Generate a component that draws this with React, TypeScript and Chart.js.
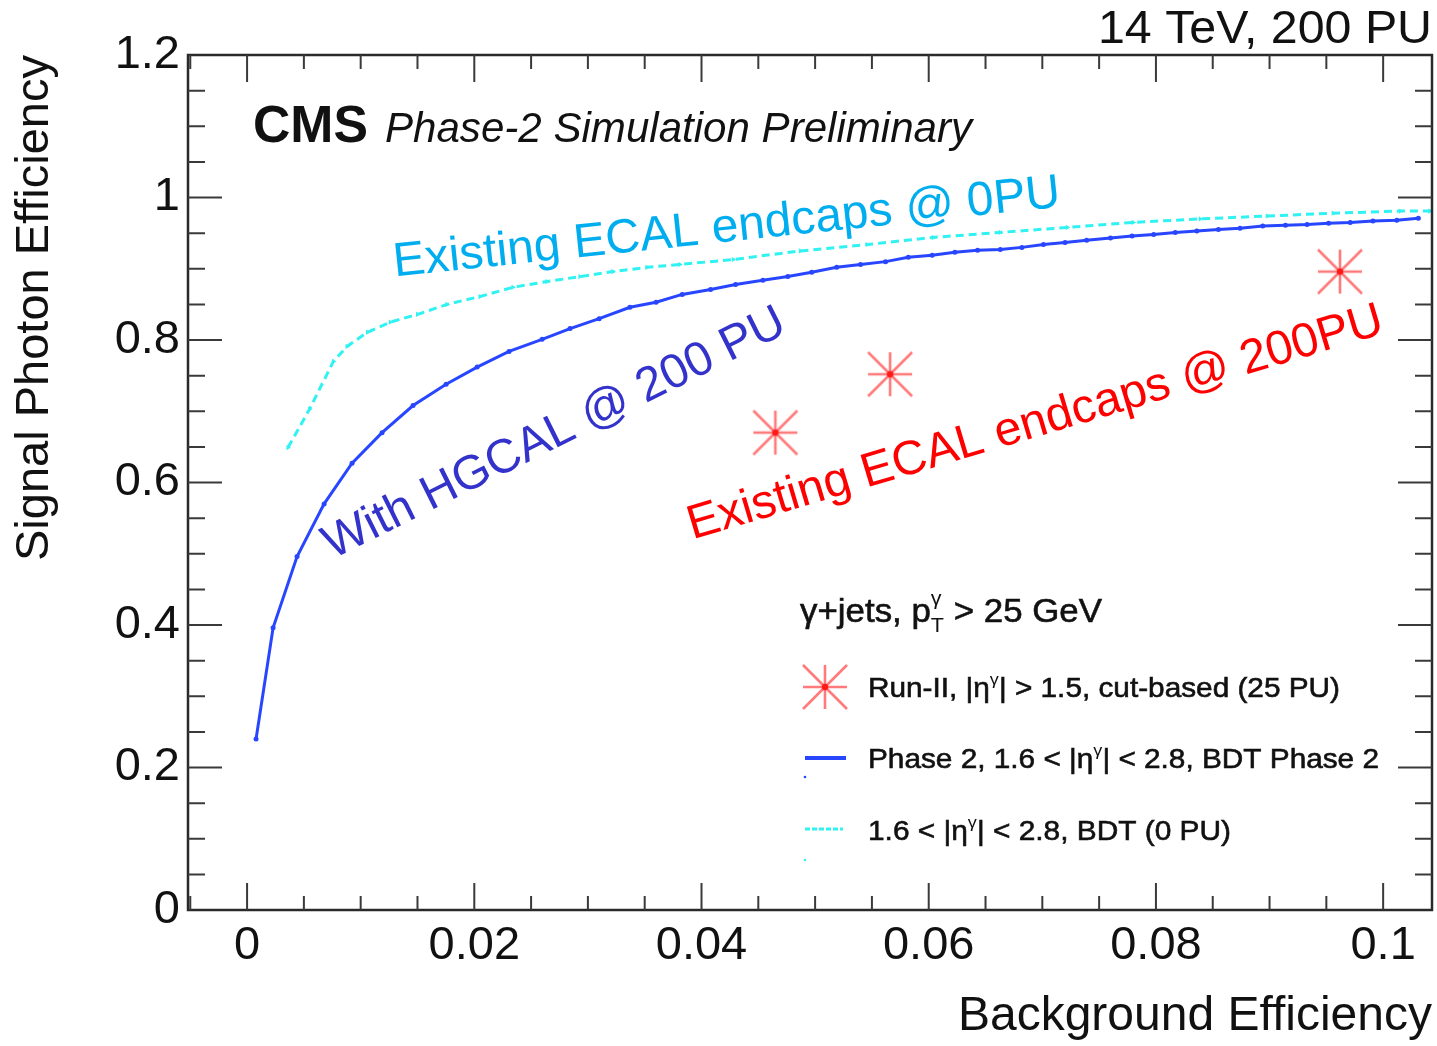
import { useEffect, useRef } from 'react';
import { Chart, registerables } from 'chart.js';

Chart.register(...registerables);

const FONT = '"Liberation Sans", Arial, Helvetica, sans-serif';

// Phase 2 HGCAL, 200 PU (blue solid)
const PHASE2_X = [0.00079, 0.00229, 0.0044, 0.00678, 0.00924, 0.01188, 0.01461, 0.01752, 0.02025, 0.02306, 0.02597, 0.02843, 0.03099, 0.0337, 0.036, 0.0383, 0.0408, 0.043, 0.0454, 0.0476, 0.0497, 0.0519, 0.054, 0.0562, 0.0582, 0.0603, 0.0623, 0.0643, 0.0663, 0.0682, 0.0701, 0.072, 0.0739, 0.076, 0.0779, 0.0798, 0.0817, 0.0836, 0.0855, 0.0874, 0.0894, 0.0914, 0.0933, 0.0952, 0.0971, 0.0991, 0.1012, 0.1031];
const PHASE2_Y = [0.24, 0.396, 0.496, 0.57, 0.627, 0.67, 0.708, 0.738, 0.762, 0.784, 0.801, 0.816, 0.83, 0.846, 0.853, 0.864, 0.871, 0.878, 0.884, 0.889, 0.895, 0.902, 0.906, 0.91, 0.916, 0.919, 0.923, 0.926, 0.927, 0.93, 0.934, 0.937, 0.94, 0.943, 0.946, 0.948, 0.951, 0.953, 0.955, 0.957, 0.96, 0.961, 0.962, 0.964, 0.965, 0.967, 0.968, 0.971];

// Existing ECAL, 0 PU (cyan dashed)
const ZEROPU_X = [0.0036, 0.0055, 0.0076, 0.0088, 0.0106, 0.0126, 0.015, 0.0176, 0.0205, 0.0234, 0.0264, 0.0293, 0.0322, 0.0352, 0.0381, 0.0428, 0.0487, 0.0546, 0.0604, 0.0663, 0.0722, 0.078, 0.0839, 0.0898, 0.0956, 0.1015, 0.1041];
const ZEROPU_Y = [0.649, 0.703, 0.77, 0.791, 0.811, 0.825, 0.836, 0.85, 0.861, 0.874, 0.882, 0.889, 0.896, 0.902, 0.906, 0.913, 0.925, 0.934, 0.944, 0.951, 0.958, 0.965, 0.97, 0.974, 0.978, 0.981, 0.981];

// Run-II cut-based (red stars)
const RUN2_X = [0.0465, 0.0566, 0.0962];
const RUN2_Y = [0.67, 0.752, 0.896];

const X_TICKS = [0, 0.02, 0.04, 0.06, 0.08, 0.1];
const X_TICK_LABELS = ['0', '0.02', '0.04', '0.06', '0.08', '0.1'];
const Y_TICKS = [0, 0.2, 0.4, 0.6, 0.8, 1.0, 1.2];
const Y_TICK_LABELS = ['0', '0.2', '0.4', '0.6', '0.8', '1', '1.2'];

const BLUE = '#2846ff';
const CYAN = '#30f2f2';

function makeStar(size: number): HTMLCanvasElement {
  const c = document.createElement('canvas');
  c.width = size;
  c.height = size;
  const g = c.getContext('2d')!;
  const h = size / 2;
  const r = h - 2;
  g.strokeStyle = 'rgba(255,70,70,0.72)';
  g.lineWidth = 2.6;
  g.beginPath();
  g.moveTo(h - r, h); g.lineTo(h + r, h);
  g.moveTo(h, h - r); g.lineTo(h, h + r);
  g.moveTo(h - r, h - r); g.lineTo(h + r, h + r);
  g.moveTo(h + r, h - r); g.lineTo(h - r, h + r);
  g.stroke();
  g.fillStyle = '#ff1a1a';
  g.beginPath();
  g.arc(h, h, 3.2, 0, Math.PI * 2);
  g.fill();
  return c;
}

type Seg = { t: string; kind?: 'sup' | 'subsup'; t2?: string };

function drawRich(ctx: CanvasRenderingContext2D, segs: Seg[], x: number, y: number, size: number, width: number, color: string) {
  const base = `${size}px ${FONT}`;
  const small = `${Math.round(size * 0.62)}px ${FONT}`;
  const widths: number[] = [];
  let natural = 0;
  for (const s of segs) {
    let w: number;
    if (!s.kind) {
      ctx.font = base;
      w = ctx.measureText(s.t).width;
    } else {
      ctx.font = small;
      w = Math.max(ctx.measureText(s.t).width, ctx.measureText(s.t2 || '').width);
    }
    widths.push(w);
    natural += w;
  }
  const sx = width / natural;
  ctx.save();
  ctx.translate(x, y);
  ctx.scale(sx, 1);
  ctx.fillStyle = color;
  ctx.strokeStyle = color;
  ctx.lineWidth = 0.6;
  ctx.textAlign = 'left';
  ctx.textBaseline = 'alphabetic';
  let cx = 0;
  segs.forEach((s, i) => {
    if (!s.kind) {
      ctx.font = base;
      ctx.fillText(s.t, cx, 0);
      ctx.strokeText(s.t, cx, 0);
    } else if (s.kind === 'sup') {
      ctx.font = small;
      ctx.fillText(s.t, cx, -size * 0.42);
    } else {
      ctx.font = small;
      ctx.fillText(s.t, cx, size * 0.3);
      ctx.fillText(s.t2 || '', cx, -size * 0.5);
    }
    cx += widths[i];
  });
  ctx.restore();
}

function drawFit(ctx: CanvasRenderingContext2D, text: string, x: number, y: number, font: string, width: number, color: string, align: 'left' | 'right' = 'left') {
  ctx.save();
  ctx.font = font;
  const w = ctx.measureText(text).width;
  const sx = width / w;
  ctx.translate(align === 'left' ? x : x - width, y);
  ctx.scale(sx, 1);
  ctx.fillStyle = color;
  ctx.textAlign = 'left';
  ctx.textBaseline = 'alphabetic';
  ctx.fillText(text, 0, 0);
  ctx.restore();
}

function drawRot(ctx: CanvasRenderingContext2D, text: string, x: number, y: number, deg: number, size: number, color: string) {
  ctx.save();
  ctx.translate(x, y);
  ctx.rotate((-deg * Math.PI) / 180);
  ctx.font = `${size}px ${FONT}`;
  ctx.fillStyle = color;
  ctx.textAlign = 'left';
  ctx.textBaseline = 'alphabetic';
  ctx.fillText(text, 0, 0);
  ctx.restore();
}

export default function App() {
  const ref = useRef<HTMLCanvasElement | null>(null);

  useEffect(() => {
    if (!ref.current) return;
    const star = makeStar(48);

    const rootPlugin = {
      id: 'rootStyle',
      afterDatasetsDraw(chart: any) {
        const { ctx, chartArea: a, scales } = chart;
        const xs = scales.x;
        const ys = scales.y;
        ctx.save();

        // rotated annotations (anchored in data coordinates)
        drawRot(ctx, 'Existing ECAL endcaps @ 0PU', xs.getPixelForValue(0.013), ys.getPixelForValue(0.889), 6.0, 48, '#00aeef');
        drawRot(ctx, 'With HGCAL @ 200 PU', xs.getPixelForValue(0.0075), ys.getPixelForValue(0.4918), 26.5, 48, '#3333cc');
        drawRot(ctx, 'Existing ECAL endcaps @ 200PU', xs.getPixelForValue(0.0392), ys.getPixelForValue(0.52), 16.6, 48, '#ff0000');

        // CMS label
        drawFit(ctx, 'CMS', 253, 142, `bold 51px ${FONT}`, 115, '#111');
        drawFit(ctx, 'Phase-2 Simulation Preliminary', 385, 142, `italic 42px ${FONT}`, 587, '#111');

        // top-right label
        drawFit(ctx, '14 TeV, 200 PU', 1432, 43, `46px ${FONT}`, 334, '#111', 'right');

        // legend
        drawRich(ctx, [{ t: '\u03b3+jets, p' }, { t: 'T', kind: 'subsup', t2: '\u03b3' }, { t: ' > 25 GeV' }], 800, 622, 34, 302, '#111');
        ctx.drawImage(star, 825 - 24, 687 - 24);
        drawRich(ctx, [{ t: 'Run-II, |\u03b7' }, { t: '\u03b3', kind: 'sup' }, { t: '| > 1.5, cut-based (25 PU)' }], 868, 697, 28, 472, '#111');

        ctx.strokeStyle = BLUE;
        ctx.lineWidth = 4;
        ctx.setLineDash([]);
        ctx.beginPath();
        ctx.moveTo(805, 758);
        ctx.lineTo(846, 758);
        ctx.stroke();
        ctx.fillStyle = BLUE;
        ctx.beginPath();
        ctx.arc(805, 777, 1.3, 0, Math.PI * 2);
        ctx.fill();
        drawRich(ctx, [{ t: 'Phase 2, 1.6 < |\u03b7' }, { t: '\u03b3', kind: 'sup' }, { t: '| < 2.8, BDT Phase 2' }], 868, 768, 28, 511, '#111');

        ctx.strokeStyle = CYAN;
        ctx.lineWidth = 3;
        ctx.setLineDash([5, 2]);
        ctx.beginPath();
        ctx.moveTo(805, 829);
        ctx.lineTo(843, 829);
        ctx.stroke();
        ctx.setLineDash([]);
        ctx.fillStyle = CYAN;
        ctx.beginPath();
        ctx.arc(805, 860, 1.3, 0, Math.PI * 2);
        ctx.fill();
        drawRich(ctx, [{ t: '1.6 < |\u03b7' }, { t: '\u03b3', kind: 'sup' }, { t: '| < 2.8, BDT (0 PU)' }], 868, 840, 28, 363, '#111');

        // frame
        ctx.strokeStyle = '#2a2a2a';
        ctx.lineWidth = 2.5;
        ctx.strokeRect(a.left, a.top, a.right - a.left, a.bottom - a.top);

        // inner ticks
        ctx.lineWidth = 2;
        ctx.strokeStyle = '#3a3a3a';
        ctx.beginPath();
        for (let i = -1; i <= 21; i++) {
          const v = i * 0.005;
          const px = xs.getPixelForValue(v);
          if (px <= a.left + 1 || px >= a.right - 1) continue;
          const len = i % 4 === 0 ? 27 : 14;
          ctx.moveTo(px, a.bottom);
          ctx.lineTo(px, a.bottom - len);
          ctx.moveTo(px, a.top);
          ctx.lineTo(px, a.top + len);
        }
        for (let i = 0; i <= 24; i++) {
          const v = i * 0.05;
          const py = ys.getPixelForValue(v);
          if (py <= a.top + 1 || py >= a.bottom - 1) continue;
          const len = i % 4 === 0 ? 34 : 17;
          ctx.moveTo(a.left, py);
          ctx.lineTo(a.left + len, py);
          ctx.moveTo(a.right, py);
          ctx.lineTo(a.right - len, py);
        }
        ctx.stroke();
        ctx.restore();
      },
    };

    const chart = new Chart(ref.current, {
      type: 'scatter',
      data: {
        datasets: [
          {
            label: 'Phase 2, 1.6 < |eta| < 2.8, BDT Phase 2',
            data: PHASE2_X.map((x, i) => ({ x, y: PHASE2_Y[i] })),
            showLine: true,
            borderColor: BLUE,
            backgroundColor: BLUE,
            borderWidth: 3,
            pointRadius: 2.5,
            pointBorderWidth: 0,
            pointBackgroundColor: BLUE,
            tension: 0,
          },
          {
            label: '1.6 < |eta| < 2.8, BDT (0 PU)',
            data: ZEROPU_X.map((x, i) => ({ x, y: ZEROPU_Y[i] })),
            showLine: true,
            borderColor: CYAN,
            backgroundColor: CYAN,
            borderWidth: 3,
            borderDash: [8, 5],
            pointRadius: 3,
            pointStyle: 'triangle',
            rotation: 90,
            pointBorderWidth: 0,
            pointBackgroundColor: CYAN,
            tension: 0,
          },
          {
            label: 'Run-II, |eta| > 1.5, cut-based (25 PU)',
            data: RUN2_X.map((x, i) => ({ x, y: RUN2_Y[i] })),
            showLine: false,
            pointStyle: star as any,
            pointRadius: 24,
            borderColor: 'rgba(255,70,70,0.72)',
            backgroundColor: 'rgba(255,70,70,0.72)',
          },
        ],
      },
      options: {
        animation: false,
        responsive: false,
        devicePixelRatio: 1,
        layout: { autoPadding: false, padding: { left: 0, top: 55, right: 5, bottom: 0 } },
        plugins: {
          legend: { display: false },
          tooltip: { enabled: false },
        },
        scales: {
          x: {
            type: 'linear',
            min: -0.0052,
            max: 0.1043,
            grid: { display: false, drawTicks: false },
            border: { display: false },
            afterBuildTicks: (scale: any) => {
              scale.ticks = X_TICKS.map((v) => ({ value: v }));
            },
            afterFit: (scale: any) => {
              scale.height = 136;
              scale.paddingLeft = 0;
              scale.paddingRight = 0;
            },
            ticks: {
              padding: 8,
              color: '#111',
              font: { size: 47, family: FONT },
              maxRotation: 0,
              autoSkip: false,
              callback: (_v: any, i: number) => X_TICK_LABELS[i],
            },
            title: {
              display: true,
              text: 'Background Efficiency',
              align: 'end',
              color: '#111',
              font: { size: 48, family: FONT },
              padding: { top: 0, bottom: 0 },
            },
          },
          y: {
            type: 'linear',
            min: 0,
            max: 1.2,
            grid: { display: false, drawTicks: false },
            border: { display: false },
            afterBuildTicks: (scale: any) => {
              scale.ticks = Y_TICKS.map((v) => ({ value: v }));
            },
            afterFit: (scale: any) => {
              scale.width = 188;
              scale.paddingTop = 0;
              scale.paddingBottom = 0;
            },
            ticks: {
              padding: 8,
              color: '#111',
              font: { size: 47, family: FONT },
              autoSkip: false,
              callback: (_v: any, i: number) => Y_TICK_LABELS[i],
            },
            title: {
              display: true,
              text: 'Signal Photon Efficiency',
              align: 'end',
              color: '#111',
              font: { size: 47, family: FONT },
              padding: { top: 7, bottom: 0 },
            },
          },
        },
      },
      plugins: [rootPlugin],
    });

    return () => chart.destroy();
  }, []);

  return (
    <div style={{ position: 'fixed', left: 0, top: 0, width: 1437, height: 1046, background: '#fff' }}>
      <canvas ref={ref} width={1437} height={1046} style={{ width: 1437, height: 1046, display: 'block' }} />
    </div>
  );
}
